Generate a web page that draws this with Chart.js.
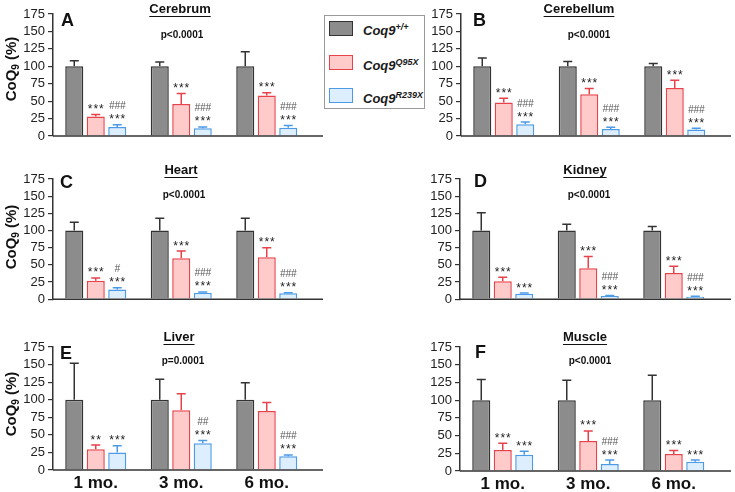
<!DOCTYPE html>
<html>
<head>
<meta charset="utf-8">
<script src="https://cdn.jsdelivr.net/npm/chart.js@4.4.1/dist/chart.umd.min.js"></script>
<style>
  body { margin: 0; background: #fff; }
  #wrap { position: relative; width: 735px; height: 492px; overflow: hidden; }
  #wrap canvas { position: absolute; }
  #legend {
    position: absolute; left: 324px; top: 15px; width: 99px; height: 92px;
    border: 1px solid #9a9a9a; background: #fff; z-index: 5;
    font-family: 'Liberation Sans', Arial, sans-serif;
  }
  .sw { position: absolute; left: 4px; width: 22px; height: 13px; border: 1.5px solid; }
  .lb { position: absolute; left: 38px; font: italic bold 13px 'Liberation Sans', Arial, sans-serif; color: #1a1a1a; white-space: nowrap; }
  .lb span { font-size: 9px; position: relative; top: -5px; }
</style>
</head>
<body>
<div id="wrap">
  <div id="legend">
    <div class="sw" style="top:5px;background:#8c8c8c;border-color:#333"></div>
    <div class="lb" style="top:7px">Coq9<span>+/+</span></div>
    <div class="sw" style="top:39px;background:#ffcaca;border-color:#e8424a"></div>
    <div class="lb" style="top:42px">Coq9<span>Q95X</span></div>
    <div class="sw" style="top:72px;background:#ddeeff;border-color:#4d9be6"></div>
    <div class="lb" style="top:75px">Coq9<span>R239X</span></div>
  </div>
</div>
<script>
const groups = ['1 mo.', '3 mo.', '6 mo.'];
const genotypes = ['Coq9+/+', 'Coq9Q95X', 'Coq9R239X'];

// rows: +/+, Q95X, R239X ; columns: 1, 3, 6 months
const cerebrumMean = [[100, 100, 100], [28, 46, 58], [13, 11, 12]];
const cerebrumErr = [[8, 6, 21], [3, 15, 4], [3, 2, 3]];
const cerebrumStars = [['', '', ''], ['***', '***', '***'], ['***', '***', '***']];
const cerebrumHash = ['###', '###', '###'];

const cerebellumMean = [[100, 100, 100], [48, 60, 69], [17, 10, 9.5]];
const cerebellumErr = [[12, 7, 4], [6, 8, 11], [3, 2.5, 1.5]];
const cerebellumStars = [['', '', ''], ['***', '***', '***'], ['***', '***', '***']];
const cerebellumHash = ['###', '###', '###'];

const heartMean = [[100, 100, 100], [27, 59.5, 61], [14, 9.5, 8.5]];
const heartErr = [[12, 18, 18], [4, 10.5, 14], [2.5, 1, 1]];
const heartStars = [['', '', ''], ['***', '***', '***'], ['***', '***', '***']];
const heartHash = ['#', '###', '###'];

const kidneyMean = [[100, 100, 100], [26, 45, 38], [8, 4.5, 3.5]];
const kidneyErr = [[26, 9, 6], [6, 17, 10], [1, 1, 0.8]];
const kidneyStars = [['', '', ''], ['***', '***', '***'], ['***', '***', '***']];
const kidneyHash = ['', '###', '###'];

const liverMean = [[100, 100, 100], [29.5, 85, 84], [25, 38, 19.5]];
const liverErr = [[52, 29, 24], [6, 23.5, 12], [9.5, 4, 2]];
const liverStars = [['', '', ''], ['**', '', ''], ['***', '***', '***']];
const liverHash = ['', '##', '###'];

const muscleMean = [[100, 100, 100], [29.5, 42.5, 24], [23, 10, 13]];
const muscleErr = [[29, 28, 35], [9.5, 14, 5], [5, 5.5, 2.5]];
const muscleStars = [['', '', ''], ['***', '***', '***'], ['***', '***', '***']];
const muscleHash = ['', '###', ''];

const yTicks = [0, 25, 50, 75, 100, 125, 150, 175];

const fam = "'Liberation Sans', Arial, sans-serif";
const fills = ['#8c8c8c', '#ffcaca', '#ddeeff'];
const edges = ['#333333', '#e8424a', '#4d9be6'];

// panel placement on the page
const panels = [
  { letter: 'A', title: 'Cerebrum', p: 'p<0.0001', mean: cerebrumMean, err: cerebrumErr, stars: cerebrumStars, hash: cerebrumHash,
    box: [0, 0, 330, 150], axisX: 53, top: 14, bottom: 136, axisEnd: 323, tX: 180, tY: 9, pX: 182, pY: 35, lX: 61, lY: 26, yTitle: 69 },
  { letter: 'B', title: 'Cerebellum', p: 'p<0.0001', mean: cerebellumMean, err: cerebellumErr, stars: cerebellumStars, hash: cerebellumHash,
    box: [400, 0, 335, 150], axisX: 461, top: 14, bottom: 136, axisEnd: 731, tX: 579, tY: 9, pX: 589, pY: 35, lX: 473, lY: 26 },
  { letter: 'C', title: 'Heart', p: 'p<0.0001', mean: heartMean, err: heartErr, stars: heartStars, hash: heartHash,
    box: [0, 160, 330, 150], axisX: 53, top: 179, bottom: 302, axisEnd: 323, tX: 181, tY: 170, pX: 184, pY: 195, lX: 60, lY: 188, yTitle: 237 },
  { letter: 'D', title: 'Kidney', p: 'p<0.0001', mean: kidneyMean, err: kidneyErr, stars: kidneyStars, hash: kidneyHash,
    box: [400, 160, 335, 150], axisX: 460, top: 179, bottom: 302, axisEnd: 731, tX: 585, tY: 170, pX: 589, pY: 195, lX: 474, lY: 187 },
  { letter: 'E', title: 'Liver', p: 'p=0.0001', mean: liverMean, err: liverErr, stars: liverStars, hash: liverHash,
    box: [0, 320, 330, 172], axisX: 53, top: 347, bottom: 470, axisEnd: 323, tX: 179, tY: 337, pX: 183, pY: 361, lX: 60, lY: 359, yTitle: 404, xLabels: true },
  { letter: 'F', title: 'Muscle', p: 'p<0.0001', mean: muscleMean, err: muscleErr, stars: muscleStars, hash: muscleHash,
    box: [400, 320, 335, 172], axisX: 460, top: 347, bottom: 471, axisEnd: 731, tX: 585, tY: 337, pX: 590, pY: 361, lX: 475, lY: 358, xLabels: true }
];

const decor = {
  id: 'decor',
  afterDatasetsDraw(chart, args, o) {
    const ctx = chart.ctx;
    const y = chart.scales.y;
    const a = chart.chartArea;
    ctx.save();

    // error bars + significance marks
    chart.data.datasets.forEach((ds, i) => {
      chart.getDatasetMeta(i).data.forEach((bar, j) => {
        const top = y.getPixelForValue(ds.data[j] + ds.err[j]);
        ctx.strokeStyle = ds.borderColor;
        ctx.lineWidth = 1.5;
        ctx.beginPath();
        ctx.moveTo(bar.x, bar.y);
        ctx.lineTo(bar.x, top);
        ctx.moveTo(bar.x - 4.5, top);
        ctx.lineTo(bar.x + 4.5, top);
        ctx.stroke();

        const base = top - 1.5;
        ctx.textAlign = 'center';
        ctx.textBaseline = 'alphabetic';
        if (ds.stars[j]) {
          ctx.font = '12px ' + fam;
          ctx.fillStyle = '#222';
          ctx.letterSpacing = '1px';
          ctx.fillText(ds.stars[j], bar.x + 0.5, base);
        }
        if (ds.hash && ds.hash[j]) {
          ctx.font = 'italic 10px ' + fam;
          ctx.fillStyle = '#555';
          ctx.letterSpacing = '0px';
          ctx.fillText(ds.hash[j], bar.x, base - 14);
        }
      });
    });
    ctx.letterSpacing = '0px';

    // x axis line (runs a bit past the last group)
    ctx.strokeStyle = '#333';
    ctx.lineWidth = 1.5;
    ctx.beginPath();
    ctx.moveTo(a.left, a.bottom);
    ctx.lineTo(o.axisEnd, a.bottom);
    ctx.stroke();

    // title, underlined
    ctx.fillStyle = '#111';
    ctx.textAlign = 'center';
    ctx.textBaseline = 'middle';
    ctx.font = 'bold 13px ' + fam;
    ctx.fillText(o.title, o.tX, o.tY);
    const w = ctx.measureText(o.title).width;
    ctx.lineWidth = 1;
    ctx.strokeStyle = '#111';
    ctx.beginPath();
    ctx.moveTo(o.tX - w / 2, o.tY + 7.5);
    ctx.lineTo(o.tX + w / 2, o.tY + 7.5);
    ctx.stroke();

    ctx.font = 'bold 10px ' + fam;
    ctx.fillText(o.p, o.pX, o.pY);

    ctx.textAlign = 'left';
    ctx.textBaseline = 'alphabetic';
    ctx.font = 'bold 18px ' + fam;
    ctx.fillText(o.letter, o.lX, o.lY);

    if (o.yTitle !== undefined) {
      ctx.translate(11, o.yTitle);
      ctx.rotate(-Math.PI / 2);
      ctx.font = 'bold 15px ' + fam;
      const w1 = ctx.measureText('CoQ').width;
      const w3 = ctx.measureText(' (%)').width;
      ctx.font = 'bold 10px ' + fam;
      const w2 = ctx.measureText('9').width;
      let x = -(w1 + w2 + w3) / 2;
      ctx.font = 'bold 15px ' + fam;
      ctx.fillText('CoQ', x, 5);
      x += w1;
      ctx.font = 'bold 10px ' + fam;
      ctx.fillText('9', x, 8);
      x += w2;
      ctx.font = 'bold 15px ' + fam;
      ctx.fillText(' (%)', x, 5);
    }
    ctx.restore();
  }
};

Chart.defaults.font.family = fam;

const wrap = document.getElementById('wrap');
panels.forEach((pn) => {
  const [ox, oy, W, H] = pn.box;
  const cv = document.createElement('canvas');
  cv.width = W;
  cv.height = H;
  cv.style.left = ox + 'px';
  cv.style.top = oy + 'px';
  wrap.appendChild(cv);

  const yw = pn.axisX - ox;
  const xh = pn.xLabels ? 22 : 0;
  const plotW = 256.5;

  new Chart(cv, {
    type: 'bar',
    data: {
      labels: groups,
      datasets: genotypes.map((g, i) => ({
        label: g,
        data: pn.mean[i],
        err: pn.err[i],
        stars: pn.stars[i],
        hash: i === 2 ? pn.hash : null,
        backgroundColor: fills[i],
        borderColor: edges[i],
        borderWidth: 1.5,
        categoryPercentage: 0.754,
        barPercentage: 0.84
      }))
    },
    options: {
      responsive: false,
      animation: false,
      events: [],
      layout: {
        padding: { left: 0, top: pn.top - oy, right: W - yw - plotW, bottom: H - (pn.bottom - oy) - xh }
      },
      plugins: {
        legend: { display: false },
        tooltip: { enabled: false },
        decor: {
          axisEnd: pn.axisEnd - ox,
          title: pn.title, tX: pn.tX - ox, tY: pn.tY - oy,
          p: pn.p, pX: pn.pX - ox, pY: pn.pY - oy,
          letter: pn.letter, lX: pn.lX - ox, lY: pn.lY - oy,
          yTitle: pn.yTitle === undefined ? undefined : pn.yTitle - oy
        }
      },
      scales: {
        x: {
          grid: { display: false, drawTicks: false },
          border: { display: false },
          ticks: { display: !!pn.xLabels, color: '#111', font: { size: 17, weight: 'bold' }, padding: 3 },
          afterFit: (s) => { s.height = xh; }
        },
        y: {
          min: 0,
          max: 175,
          afterBuildTicks: (s) => { s.ticks = yTicks.map((v) => ({ value: v })); },
          ticks: { color: '#222', font: { size: 13 }, padding: 3, autoSkip: false },
          grid: { drawOnChartArea: false, drawTicks: true, tickLength: 5, color: '#333', lineWidth: 1.2 },
          border: { display: true, color: '#333', width: 1.5 },
          afterFit: (s) => { s.width = yw; }
        }
      }
    },
    plugins: [decor]
  });
});
</script>
</body>
</html>
